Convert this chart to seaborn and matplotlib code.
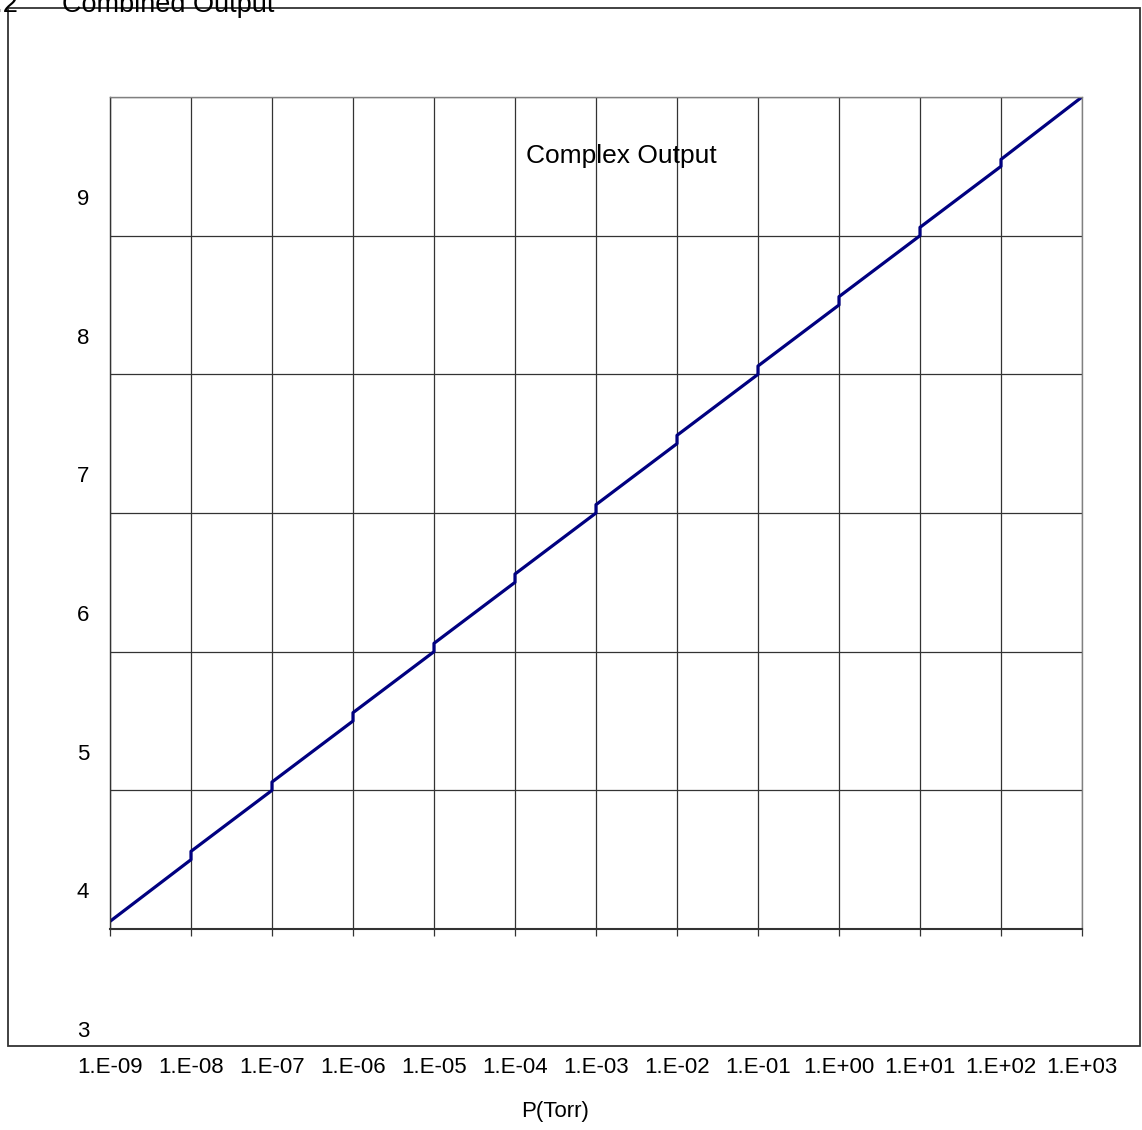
import matplotlib
matplotlib.use("Agg")
import matplotlib.pyplot as plt
import matplotlib.ticker as mticker
from matplotlib.patches import Rectangle
import pandas as pd
import seaborn as sns

# Chart data
pressure_torr = [1e-9, 1e-8, 1e-8, 1e-7, 1e-7, 1e-6, 1e-6, 1e-5, 1e-5,
                 1e-4, 1e-4, 1e-3, 1e-3, 1e-2, 1e-2, 1e-1, 1e-1,
                 1e0, 1e0, 1e1, 1e1, 1e2, 1e2, 1e3]
output_volts = [4.055, 4.50, 4.56, 5.00, 5.06, 5.50, 5.56, 6.00, 6.06,
                6.50, 6.56, 7.00, 7.06, 7.50, 7.56, 8.00, 8.06,
                8.50, 8.56, 9.00, 9.06, 9.50, 9.55, 10.0]
decade_ticks = [1e-9, 1e-8, 1e-7, 1e-6, 1e-5, 1e-4, 1e-3,
                1e-2, 1e-1, 1e0, 1e1, 1e2, 1e3]
decade_labels = ["1.E-09", "1.E-08", "1.E-07", "1.E-06", "1.E-05",
                 "1.E-04", "1.E-03", "1.E-02", "1.E-01", "1.E+00",
                 "1.E+01", "1.E+02", "1.E+03"]
y_grid = [4, 5, 6, 7, 8, 9, 10]
y_labels = ["3", "4", "5", "6", "7", "8", "9"]

df = pd.DataFrame({"P": pressure_torr, "V": output_volts})

sns.set_theme(style="white")
plt.rcParams["font.family"] = ["Liberation Sans", "DejaVu Sans"]

W, H = 1142, 1130
fig = plt.figure(figsize=(W / 100, H / 100), dpi=100)
ax = fig.add_axes([110 / W, (H - 929) / H, 972 / W, 832 / H])

sns.lineplot(data=df, x="P", y="V", ax=ax, estimator=None, sort=False,
             color="#000080", linewidth=2.3)

ax.set_xscale("log")
ax.set_xlim(1e-9, 1e3)
ax.set_ylim(4, 10)
ax.set_xticks(decade_ticks)
ax.set_xticklabels(decade_labels)
ax.xaxis.set_minor_locator(mticker.NullLocator())
ax.set_yticks(y_grid)
ax.set_yticklabels([])
ax.set_yticks([4], minor=True)

ax.grid(True, which="major", color="#333333", linewidth=0.9)
ax.tick_params(axis="x", which="major", direction="out", length=5,
               width=0.9, color="#333333", pad=87, labelsize=16,
               labelcolor="black", bottom=True)
ax.tick_params(axis="y", which="major", length=0)
ax.tick_params(axis="y", which="minor", direction="out", length=5,
               width=1.2, color="#333333", left=True)

for side in ["top", "right"]:
    ax.spines[side].set_color("#808080")
    ax.spines[side].set_linewidth(1.0)
ax.spines["left"].set_color("#333333")
ax.spines["left"].set_linewidth(1.0)
ax.spines["bottom"].set_color("#333333")
ax.spines["bottom"].set_linewidth(1.5)

ax.set_xlabel("")
ax.set_ylabel("")

# y labels sit between the grid lines in the original
ytr = ax.get_yaxis_transform()
for val, lab in zip(y_grid, y_labels):
    ax.text(-27 / 972, val - 1 + 0.26, lab, transform=ytr, ha="center",
            va="center", fontsize=16, color="black", clip_on=False)

ax.text(416 / 972, (929 - 163) / 832, "Complex Output",
        transform=ax.transAxes, fontsize=19, ha="left", va="baseline",
        color="black")

fig.text(555 / W, 1 - 1112 / H, "P(Torr)", ha="center", va="center",
         fontsize=16, color="black")

# outer chart frame
fig.patches.append(Rectangle((8 / W, (H - 1046) / H), 1132 / W, 1038 / H,
                             transform=fig.transFigure, fill=False,
                             edgecolor="#333333", linewidth=1.3))

# heading cut off at the top edge, as in the original
fig.text(18 / W, 1 - 12 / H, "6.2", ha="right", va="baseline",
         fontsize=19.5, color="black")
fig.text(62 / W, 1 - 12 / H, "Combined Output", ha="left", va="baseline",
         fontsize=19.5, color="black")

fig.savefig("out.png", dpi=100)
